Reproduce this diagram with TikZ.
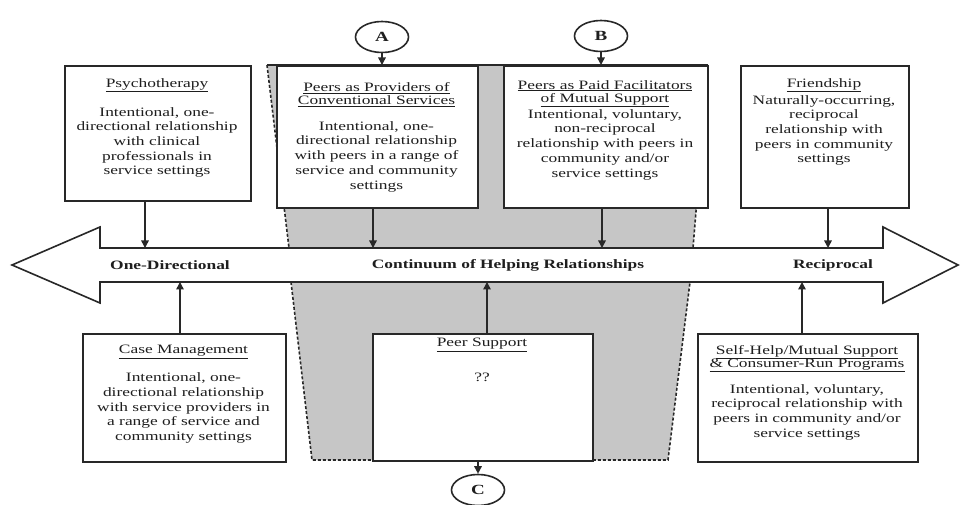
\documentclass[tikz,border=0pt]{standalone}
\usepackage{fontspec}
\setmainfont{Liberation Serif}[FakeStretch=1.36]
\usetikzlibrary{arrows.meta,shapes.geometric}
\definecolor{linec}{RGB}{40,40,40}
\definecolor{textc}{RGB}{30,30,30}
\definecolor{shadegray}{RGB}{198,198,198}
\begin{document}
\begin{tikzpicture}[x=1pt,y=-1pt,
  box/.style={draw=linec, line width=1.6pt, fill=white, inner sep=0pt, anchor=north west},
  txt/.style={align=center, inner sep=0pt, anchor=north, text=textc, font=\fontsize{12.8}{14.7}\selectfont},
  lbl/.style={inner sep=0pt, text=textc, font=\fontsize{12.8}{14.7}\selectfont\bfseries},
  circ/.style={ellipse, draw=linec, line width=1.6pt, fill=white, minimum width=53pt, minimum height=31pt, inner sep=0pt, text=textc, font=\fontsize{14}{14}\selectfont\bfseries},
  arr/.style={draw=linec, line width=1.5pt, -{Triangle[width=7.5pt,length=7.5pt]}},
  dsh/.style={draw=linec, line width=1.6pt, dash pattern=on 3pt off 2pt},
  edgeline/.style={draw=linec, line width=1.6pt},
]
\useasboundingbox (0,0) rectangle (962,505);
% shaded regions
\fill[shadegray] (267,65) -- (708,65) -- (693,248) -- (289,248) -- cycle;
\fill[shadegray] (291,282) -- (690,282) -- (668,460) -- (312,460) -- cycle;
\draw[edgeline] (267,65) -- (708,65);
\draw[dsh] (267,65) -- (289,248);
\draw[dsh] (708,65) -- (693,248);
\draw[dsh] (291,282) -- (312,460) -- (668,460) -- (690,282);
% continuum double arrow
\draw[edgeline, fill=white, line join=miter] (12,265) -- (100,227) -- (100,248) -- (883,248) -- (883,227) -- (958,265)
  -- (883,303) -- (883,282) -- (100,282) -- (100,303) -- cycle;
\node[lbl] (ld) at (170,265) {One-Directional};
\node[lbl] (cont) at (508,265) {Continuum of Helping Relationships};
\node[lbl] (rec) at (833,265) {Reciprocal};
% boxes
\node[box, minimum width=186pt, minimum height=135pt] (psy) at (64,65) {};
\node[box, minimum width=201pt, minimum height=142pt] (pA) at (276,65) {};
\node[box, minimum width=204pt, minimum height=142pt] (pB) at (503,65) {};
\node[box, minimum width=168pt, minimum height=142pt] (fr) at (740,65) {};
\node[box, minimum width=203pt, minimum height=128pt] (cm) at (82,333) {};
\node[box, minimum width=220pt, minimum height=127pt] (ps) at (372,333) {};
\node[box, minimum width=220pt, minimum height=128pt] (sh) at (697,333) {};
% box texts
\node[txt] (psyT) at (157,78) {\underline{Psychotherapy}\\[14.3pt]Intentional, one-\\directional relationship\\with clinical\\professionals in\\service settings};
\node[txt] (pAT) at (376.5,82) {\underline{Peers as Providers of}\\[-1.7pt]\underline{Conventional Services}\\[11.3pt]Intentional, one-\\directional relationship\\with peers in a range of\\service and community\\settings};
\node[txt] (pBT) at (605,80) {\underline{Peers as Paid Facilitators}\\[-1.7pt]\underline{of Mutual Support}\\[1.5pt]Intentional, voluntary,\\non-reciprocal\\relationship with peers in\\community and/or\\service settings};
\node[txt] (frT) at (824,78) {\underline{Friendship}\\[2.3pt]Naturally-occurring,\\reciprocal\\relationship with\\peers in community\\settings};
\node[txt] (cmT) at (183.5,345) {\underline{Case Management}\\[13.3pt]Intentional, one-\\directional relationship\\with service providers in\\a range of service and\\community settings};
\node[txt] (psT) at (482,338) {\underline{Peer Support}\\[20.3pt]??};
\node[txt] (shT) at (807,345) {\underline{Self-Help/Mutual Support}\\[-1.7pt]\underline{\& Consumer-Run Programs}\\[11.3pt]Intentional, voluntary,\\reciprocal relationship with\\peers in community and/or\\service settings};
% circles
\node[circ] (cA) at (382,37) {A};
\node[circ] (cB) at (601,36) {B};
\node[circ] (cC) at (478,490) {C};
\draw[arr] (cA.south) -- (cA.south |- pA.north);
\draw[arr] (cB.south) -- (cB.south |- pB.north);
\draw[arr] (ps.south -| cC.north) -- (cC.north);
% arrows to the continuum
\coordinate (tPsy) at (145,248);
\coordinate (tA) at (373,248);
\coordinate (tB) at (602,248);
\coordinate (tFr) at (828,248);
\coordinate (bCm) at (180,282);
\coordinate (bPs) at (487,282);
\coordinate (bSh) at (802,282);
\draw[arr] (psy.south -| tPsy) -- (tPsy);
\draw[arr] (pA.south -| tA) -- (tA);
\draw[arr] (pB.south -| tB) -- (tB);
\draw[arr] (fr.south -| tFr) -- (tFr);
\draw[arr] (cm.north -| bCm) -- (bCm);
\draw[arr] (ps.north -| bPs) -- (bPs);
\draw[arr] (sh.north -| bSh) -- (bSh);
\end{tikzpicture}
\end{document}
